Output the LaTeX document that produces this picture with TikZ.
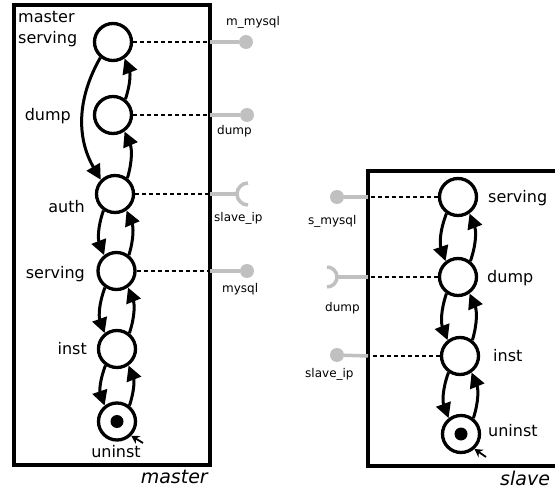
\documentclass[tikz,border=0pt]{standalone}
\usepackage{fontspec}
\setmainfont{DejaVu Sans}[ItalicFont={DejaVu Sans Oblique}]
\usetikzlibrary{arrows.meta}

\definecolor{portgray}{HTML}{C0C0C0}
\tikzset{
  state/.style={draw, circle, line width=3.3pt, minimum size=37pt, inner sep=0pt},
  trans/.style={line width=3pt, -{Triangle[length=15pt,width=15pt]}},
  lbl/.style={inner sep=0pt, font=\fontsize{16}{21}\selectfont},
  plbl/.style={inner sep=0pt, font=\fontsize{12}{14}\selectfont},
  boxname/.style={inner sep=0pt, font=\fontsize{19}{22}\selectfont\itshape},
  link/.style={line width=1.8pt, dash pattern=on 4pt off 3pt},
  wire/.style={line width=3.5pt, draw=portgray},
  port/.style={circle, fill=portgray, inner sep=0pt, minimum size=14pt},
  initarr/.style={line width=1.8pt, -{Stealth[length=8pt,width=9pt]}},
}

\begin{document}
\begin{tikzpicture}[x=1pt, y=1pt]
      \useasboundingbox (0,0) rectangle (555,-492);
      % the two boxes
      \draw[line width=3.5pt] (14,-5) rectangle (210,-465);
      \draw[line width=3.5pt] (368,-171) rectangle (580,-466);
      \node[boxname, anchor=base east] (mname) at (208,-483) {master};
      \node[boxname, anchor=base west] (sname) at (500,-485) {slave};

      % master states
      \node[state] (ms) at (113,-42) {};
      \node[state] (md) at (113,-115) {};
      \node[state] (ma) at (115,-194) {};
      \node[state] (mv) at (116.5,-271) {};
      \node[state] (mi) at (117,-349) {};
      \node[state] (mu) at (117,-421.5) {};
      \fill (mu) circle (6.5);
      \node[lbl, align=left, anchor=north west] (lms) at (18,-11) {master\\serving};
      \node[lbl, anchor=base east] (lmd) at (71,-121) {dump};
      \node[lbl, anchor=base east] (lma) at (85,-213) {auth};
      \node[lbl, anchor=base east] (lmv) at (85,-279) {serving};
      \node[lbl, anchor=base east] (lmi) at (87,-354) {inst};
      \node[lbl, anchor=base] (lmu) at (116,-457) {uninst};

      % slave states
      \node[state] (ss) at (458,-197) {};
      \node[state] (sd) at (458,-277) {};
      \node[state] (si) at (460,-356) {};
      \node[state] (su) at (461,-434) {};
      \fill (su) circle (6.5);
      \node[lbl, anchor=base west] (lss) at (488,-203) {serving};
      \node[lbl, anchor=base west] (lsd) at (487,-283) {dump};
      \node[lbl, anchor=base west] (lsi) at (493,-361) {inst};
      \node[lbl, anchor=base west] (lsu) at (488,-436) {uninst};

      % transitions
      \draw[trans] (ms.231) to[bend right=30] (ma.135);
      \foreach \a/\b in {md/ms, ma/md}
        \draw[trans] (\a.52) to[bend right=20] (\b.-55);
      \foreach \a/\b in {ma/mv, mv/mi, mi/mu, ss/sd, sd/si, si/su}{
        \draw[trans] (\a.235) to[bend right=20] (\b.128);
        \draw[trans] (\b.52) to[bend right=20] (\a.-55);
      }
      \coordinate (mu0) at (143,-443);
      \draw[initarr] (mu0) -- (mu.-45);
      \coordinate (su0) at (486,-457);
      \draw[initarr] (su0) -- (su.-48);

      % master ports
      \coordinate (me1) at (210,-42);
      \coordinate (me2) at (210,-115);
      \coordinate (me3) at (210,-194);
      \coordinate (me4) at (210,-271);
      \node[port] (mp1) at (246,-42) {};
      \node[port] (mp2) at (247,-115) {};
      \coordinate (mk3) at (237,-194);
      \node[port] (mp4) at (247,-271) {};
      \draw[link] (ms.east) -- (me1);
      \draw[link] (md.east) -- (me2);
      \draw[link] (ma.east) -- (me3);
      \draw[link] (mv.east) -- (me4);
      \draw[wire] (me1) -- (mp1);
      \draw[wire] (me2) -- (mp2);
      \draw[wire] (me3) -- (mk3);
      \draw[wire] (mk3) ++(11,11) arc[start angle=90, end angle=270, radius=11];
      \draw[wire] (me4) -- (mp4);
      \node[plbl, anchor=base west] (lmp1) at (226,-26) {m\_mysql};
      \node[plbl, anchor=base west] (lmp2) at (217,-135) {dump};
      \node[plbl, anchor=base west] (lmp3) at (214,-222) {slave\_ip};
      \node[plbl, anchor=base west] (lmp4) at (222,-293) {mysql};

      % slave ports
      \coordinate (se1) at (368,-197);
      \coordinate (se2) at (368,-277);
      \coordinate (se3) at (368,-356);
      \node[port] (sp1) at (337,-197) {};
      \coordinate (sk2) at (337,-277);
      \node[port] (sp3) at (337,-355) {};
      \draw[link] (ss.west) -- (se1);
      \draw[link] (sd.west) -- (se2);
      \draw[link] (si.west) -- (se3);
      \draw[wire] (se1) -- (sp1);
      \draw[wire] (se2) -- (sk2);
      \draw[wire] (sk2) ++(-10,-10) arc[start angle=-90, end angle=90, radius=10];
      \draw[wire] (se3) -- (sp3);
      \node[plbl, anchor=base west] (lsp1) at (308,-225) {s\_mysql};
      \node[plbl, anchor=base west] (lsp2) at (325,-312) {dump};
      \node[plbl, anchor=base west] (lsp3) at (305,-377) {slave\_ip};
    \end{tikzpicture}
\end{document}
